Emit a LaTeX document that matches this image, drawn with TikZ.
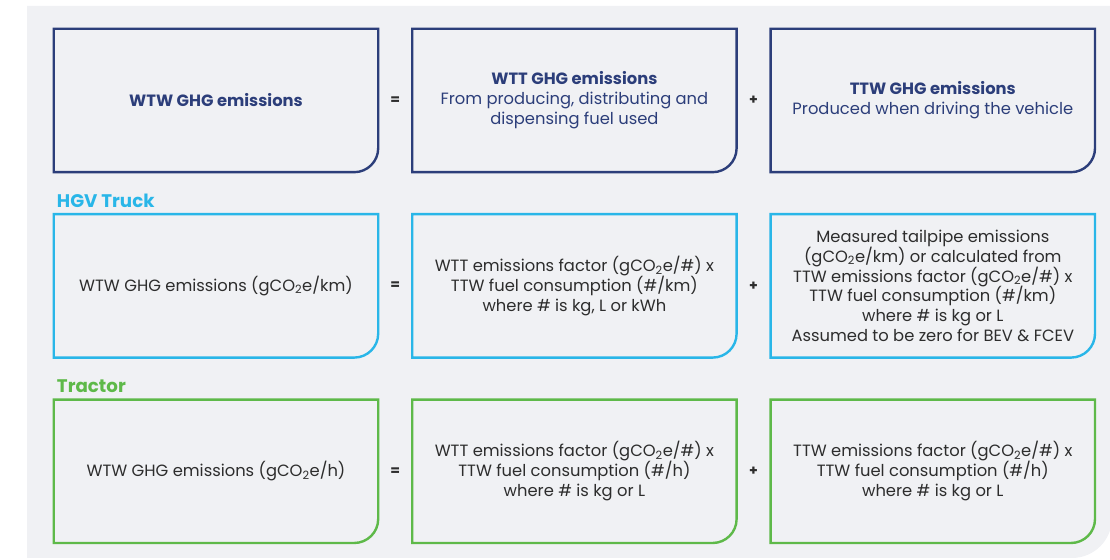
\documentclass[tikz,border=0pt]{standalone}
\usepackage{fontspec}
\setmainfont{Poppins}
\usetikzlibrary{positioning}
\definecolor{wtwnavy}{RGB}{44,62,122}
\definecolor{hgvblue}{RGB}{41,182,232}
\definecolor{trcgreen}{RGB}{94,185,73}
\definecolor{panelgray}{RGB}{240,241,244}
\definecolor{bodygray}{RGB}{45,45,45}
\tikzstyle{eqbox}=[minimum width=324bp,minimum height=143bp,inner sep=0pt,align=center,font=\fontsize{16.4}{20}\selectfont]
\tikzstyle{sign}=[font=\fontsize{14}{14}\selectfont\bfseries,text=bodygray]
\tikzstyle{rowlabel}=[anchor=base west,inner sep=0pt,font=\fontsize{18.3}{18}\selectfont\bfseries]
\newcommand{\cotwo}{gCO\textsubscript{2}e}
% box with one rounded corner (bottom right)
\newcommand{\cutbox}[2]{\draw[#2,line width=2.4bp] (#1.north west) -- (#1.north east) -- ([yshift=24bp]#1.south east) arc[start angle=0,end angle=-90,radius=24bp] -- (#1.south west) -- cycle;}

\begin{document}
\begin{tikzpicture}[x=1bp,y=1bp]
  \clip (0,0) rectangle (1110,560);
  \useasboundingbox (0,0) rectangle (1110,560);
  \fill[panelgray] (27,554) -- (1112,554) -- (1112,42) arc[start angle=0,end angle=-90,radius=40bp] -- (27,2) -- cycle;

  % top row
  \node[eqbox,text=wtwnavy] (top1) at (216,459.5) {\bfseries WTW GHG emissions};
  \node[eqbox,text=wtwnavy,right=34bp of top1] (top2) {{\bfseries WTT GHG emissions}\\From producing, distributing and\\dispensing fuel used};
  \node[eqbox,text=wtwnavy,right=34bp of top2] (top3) {{\bfseries TTW GHG emissions}\\Produced when driving the vehicle};

  % HGV truck
  \node[eqbox,text=bodygray,below=42bp of top1] (hgv1) {WTW GHG emissions (\cotwo/km)};
  \node[eqbox,text=bodygray,right=34bp of hgv1] (hgv2) {WTT emissions factor (\cotwo/\#) x\\TTW fuel consumption (\#/km)\\where \# is kg, L or kWh};
  \node[eqbox,text=bodygray,right=34bp of hgv2] (hgv3) {Measured tailpipe emissions\\(\cotwo/km) or calculated from\\TTW emissions factor (\cotwo/\#) x\\TTW fuel consumption (\#/km)\\where \# is kg or L\\Assumed to be zero for BEV \& FCEV};

  % tractor
  \node[eqbox,text=bodygray,below=42bp of hgv1] (trc1) {WTW GHG emissions (\cotwo/h)};
  \node[eqbox,text=bodygray,right=34bp of trc1] (trc2) {WTT emissions factor (\cotwo/\#) x\\TTW fuel consumption (\#/h)\\where \# is kg or L};
  \node[eqbox,text=bodygray,right=34bp of trc2] (trc3) {TTW emissions factor (\cotwo/\#) x\\TTW fuel consumption (\#/h)\\where \# is kg or L};

  \node[rowlabel,text=hgvblue] (hgvlabel) at ([xshift=3bp,yshift=7bp]hgv1.north west) {HGV Truck};
  \node[rowlabel,text=trcgreen] (trclabel) at ([xshift=3bp,yshift=7bp]trc1.north west) {Tractor};

  \foreach \r/\c in {top/wtwnavy,hgv/hgvblue,trc/trcgreen}{
    \cutbox{\r1}{\c}
    \cutbox{\r2}{\c}
    \cutbox{\r3}{\c}
    \path (\r1) -- (\r2) node[sign,midway] (\r eq) {=};
    \path (\r2) -- (\r3) node[sign,midway] (\r plus) {+};
  }
\end{tikzpicture}
\end{document}
